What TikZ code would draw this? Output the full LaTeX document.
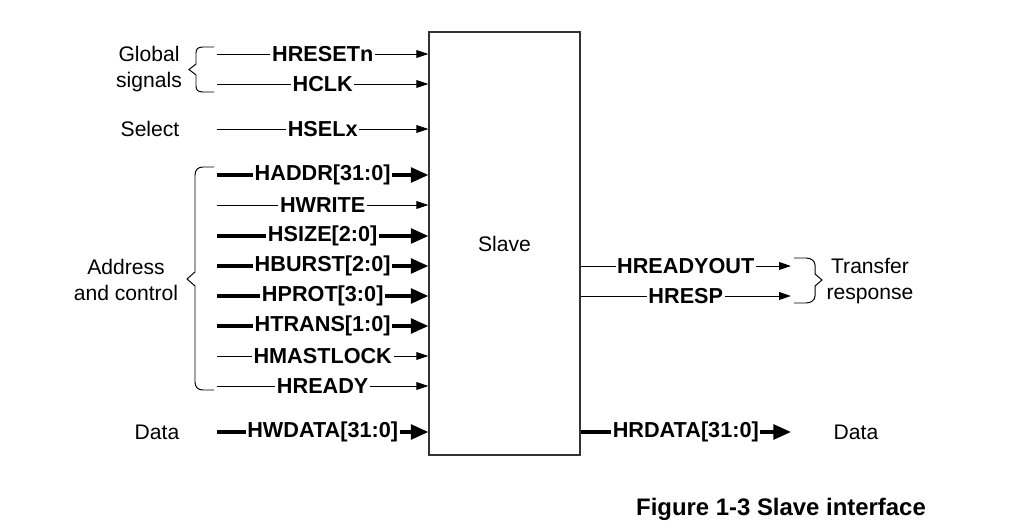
\documentclass[tikz,border=0pt]{standalone}
\usepackage{fontspec}
\setmainfont{Liberation Sans}
\usepackage{tikz}
\usetikzlibrary{positioning,arrows.meta}
\definecolor{boxline}{HTML}{333333}

\begin{document}
\begin{tikzpicture}[
  x=0.025cm, y=-0.025cm,
  every node/.style={font=\fontsize{15}{18.5}\selectfont},
  txt/.style={align=center, inner sep=0pt},
  lbl/.style={font=\fontsize{15.4}{18.5}\selectfont\bfseries, fill=white, inner xsep=1.2pt, inner ysep=1pt},
  sig/.style={line width=0.7pt, -{Triangle[length=8.5pt, width=5.5pt]}},
  bus/.style={line width=2.4pt, -{Triangle[length=12.5pt, width=10.5pt]}},
  brace/.style={line width=0.7pt},
  slavebox/.style={rectangle, draw=boxline, line width=0.8pt, minimum width=3.775cm, minimum height=10.575cm, inner sep=0pt}
]
\useasboundingbox (0,0) rectangle (1033,530);
\node[slavebox] (slave) at (504.5,243.5) {Slave};

% inputs
\coordinate (rst) at (217,54);
\coordinate (clk) at (217,84);
\coordinate (sel) at (217,129);
\coordinate (addr) at (217,175);
\coordinate (wr) at (217,205);
\coordinate (size) at (217,236);
\coordinate (burst) at (217,266);
\coordinate (prot) at (217,296);
\coordinate (trans) at (217,326);
\coordinate (lock) at (217,356);
\coordinate (rdy) at (217,386);
\coordinate (wdata) at (217,432);
\draw[sig] (rst) -- (rst -| slave.west) node[lbl, midway] (lrst) {HRESETn};
\draw[sig] (clk) -- (clk -| slave.west) node[lbl, midway] (lclk) {HCLK};
\draw[sig] (sel) -- (sel -| slave.west) node[lbl, midway] (lsel) {HSELx};
\draw[bus] (addr) -- (addr -| slave.west) node[lbl, midway] (laddr) {HADDR[31:0]};
\draw[sig] (wr) -- (wr -| slave.west) node[lbl, midway] (lwr) {HWRITE};
\draw[bus] (size) -- (size -| slave.west) node[lbl, midway] (lsize) {HSIZE[2:0]};
\draw[bus] (burst) -- (burst -| slave.west) node[lbl, midway] (lburst) {HBURST[2:0]};
\draw[bus] (prot) -- (prot -| slave.west) node[lbl, midway] (lprot) {HPROT[3:0]};
\draw[bus] (trans) -- (trans -| slave.west) node[lbl, midway] (ltrans) {HTRANS[1:0]};
\draw[sig] (lock) -- (lock -| slave.west) node[lbl, midway] (llock) {HMASTLOCK};
\draw[sig] (rdy) -- (rdy -| slave.west) node[lbl, midway] (lrdy) {HREADY};
\draw[bus] (wdata) -- (wdata -| slave.west) node[lbl, midway] (lwdata) {HWDATA[31:0]};

% outputs
\coordinate (rdyout) at (791,266);
\coordinate (resp) at (791,296);
\coordinate (rdata) at (791,432);
\draw[sig] (rdyout -| slave.east) -- (rdyout) node[lbl, midway] (lrdyout) {HREADYOUT};
\draw[sig] (resp -| slave.east) -- (resp) node[lbl, midway] (lresp) {HRESP};
\draw[bus] (rdata -| slave.east) -- (rdata) node[lbl, midway] (lrdata) {HRDATA[31:0]};

% braces
\draw[brace] (214,47) -- (203,47) .. controls (198,47) and (196,49) .. (196,53) -- (196,64) -- (189,69.5) -- (196,75) -- (196,86) .. controls (196,90) and (198,92) .. (203,92) -- (214,92);
\draw[brace] (214,167) -- (203,167) .. controls (198,167) and (195,170) .. (195,175) -- (195,272) -- (187,279) -- (195,286) -- (195,382) .. controls (195,387) and (198,390) .. (203,390) -- (214,390);
\draw[brace] (794,258) -- (806,258) .. controls (811,258) and (815,261) .. (815,265) -- (815,274) -- (822,280) -- (815,286) -- (815,296) .. controls (815,300) and (811,303) .. (806,303) -- (794,303);

% group labels
\node[txt] (glob) at (149,69) {Global\\signals};
\node[txt] (select) at (150,129) {Select};
\node[txt] (adctl) at (126,280) {Address\\and control};
\node[txt] (datain) at (157,432) {Data};
\node[txt] (xfer) at (870,281) {Transfer\\response};
\node[txt] (dataout) at (856,432) {Data};

\node[font=\fontsize{17}{20}\selectfont\bfseries, inner sep=0pt] (caption) at (781,509) {Figure 1-3 Slave interface};
\end{tikzpicture}
\end{document}
